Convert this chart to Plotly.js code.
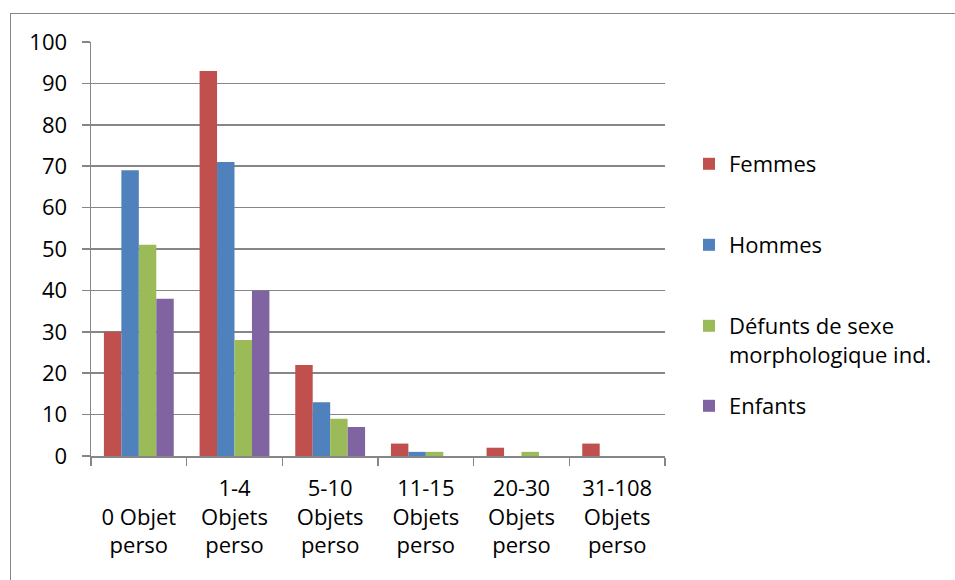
<!DOCTYPE html>
<html><head><meta charset="utf-8">
<script src="https://cdn.plot.ly/plotly-3.0.1.min.js"></script>
<style>
html,body{margin:0;padding:0;background:#fff;}
#wrap{position:relative;width:955px;height:580px;overflow:hidden;}
#chart{width:955px;height:580px;}
#frame{position:absolute;left:10px;top:13px;width:960px;height:600px;border:1.5px solid #868686;pointer-events:none;box-sizing:border-box;}
</style></head>
<body><div id="wrap"><div id="chart"></div><div id="frame"></div></div>
<script>
const categories = ["\u00a0<br>0 Objet<br>perso", "1-4<br>Objets<br>perso", "5-10<br>Objets<br>perso", "11-15<br>Objets<br>perso", "20-30<br>Objets<br>perso", "31-108<br>Objets<br>perso"];
const seriesNames = ["Femmes", "Hommes", "Défunts de sexe<br>morphologique ind.", "Enfants"];
const femmes = [30, 93, 22, 3, 2, 3];
const hommes = [69, 71, 13, 1, 0, 0];
const defunts = [51, 28, 9, 1, 1, 0];
const enfants = [38, 40, 7, 0, 0, 0];
const colors = ["#C0504D", "#4F81BD", "#9BBB59", "#8064A2"];
const allValues = [femmes, hommes, defunts, enfants];
const legendIds = ["legend", "legend2", "legend3", "legend4"];

const FONT = "'Open Sans', sans-serif";
const FS = 22;
const traces = allValues.map((v, i) => ({
  type: "bar", x: categories, y: v, name: seriesNames[i],
  marker: {color: colors[i], line: {width: 0}},
  legend: legendIds[i], hoverinfo: "skip"
}));

const legY = [163, 244, 325, 405];
const plotTop = 42, plotBottom = 456, plotLeft = 91, plotRight = 665;
const H = plotBottom - plotTop, W = plotRight - plotLeft;
function legendCfg(i) {
  return {
    x: (689 - plotLeft) / W, xanchor: "left",
    y: (plotBottom - (legY[i] - 20)) / H, yanchor: "top",
    valign: "top", bgcolor: "rgba(0,0,0,0)", borderwidth: 0,
    font: {family: FONT, size: FS, color: "#000"}
  };
}

const layout = {
  width: 955, height: 580,
  margin: {l: plotLeft, r: 955 - plotRight, t: plotTop, b: 580 - plotBottom, pad: 0},
  paper_bgcolor: "#fff", plot_bgcolor: "#fff",
  barmode: "group", bargap: 0.27, bargroupgap: 0,
  showlegend: true,
  legend: legendCfg(0), legend2: legendCfg(1), legend3: legendCfg(2), legend4: legendCfg(3),
  font: {family: FONT, size: FS, color: "#000"},
  xaxis: {
    type: "category", showline: true, linecolor: "#868686", linewidth: 1.5,
    ticks: "outside", tickson: "boundaries", ticklen: 8, tickcolor: "#868686", tickwidth: 1.5,
    showgrid: false, tickfont: {family: FONT, size: FS, color: "#000"}, ticklabelstandoff: 12, fixedrange: true
  },
  yaxis: {
    range: [0, 100], dtick: 10, tick0: 0, showline: true, linecolor: "#868686", linewidth: 1.5,
    ticks: "outside", ticklen: 8, tickcolor: "#868686", tickwidth: 1.5,
    showgrid: true, gridcolor: "#868686", gridwidth: 1.5, zeroline: false,
    tickfont: {family: FONT, size: FS, color: "#000"}, ticklabelstandoff: 10, fixedrange: true
  }
};
Plotly.newPlot("chart", traces, layout, {displayModeBar: false, staticPlot: true});
</script></body></html>
